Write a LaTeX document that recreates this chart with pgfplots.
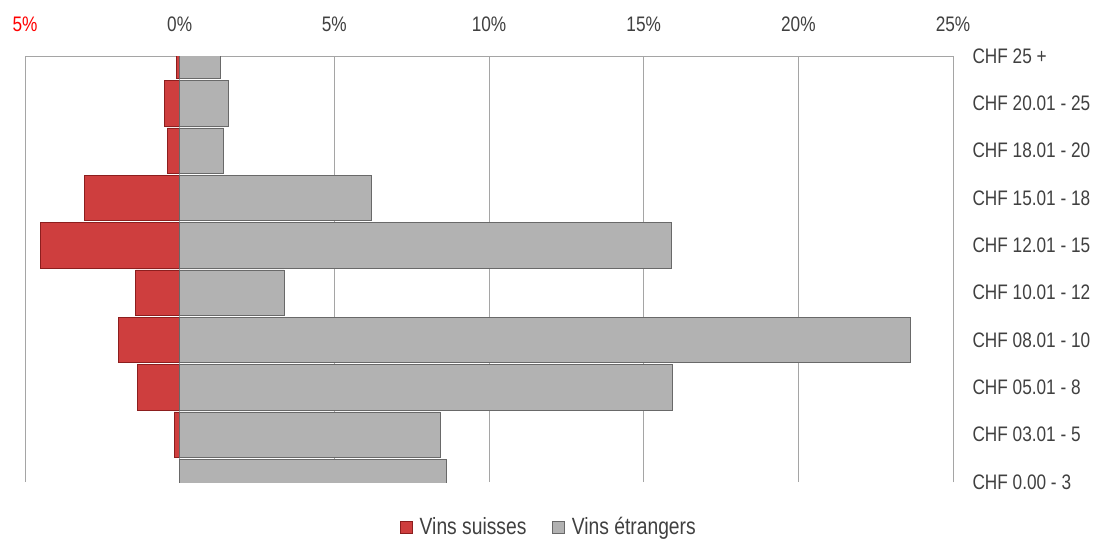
\documentclass[border=0pt]{standalone}
\usepackage{pgfplots}
\pgfplotsset{compat=1.18}
\usepackage{fontspec}
\setmainfont[FakeStretch=0.82]{Liberation Sans}
\definecolor{txt}{RGB}{64,64,64}
\definecolor{gridc}{RGB}{165,165,165}
\definecolor{redmid}{RGB}{206,62,62}
\definecolor{redline}{RGB}{140,30,30}
\definecolor{graymid}{RGB}{178,178,178}
\definecolor{grayline}{RGB}{105,105,105}
\begin{document}
\begin{tikzpicture}
\begin{axis}[
  name=ax,
  at={(0pt,0pt)}, anchor=south west,
  scale only axis, width=928pt, height=426pt,
  xmin=-5, xmax=25, ymin=0, ymax=9,
  enlargelimits=false,
  axis x line*=top, axis y line*=right,
  axis line style={draw=gridc, line width=0.8pt},
  xmajorgrids, grid style={draw=gridc, line width=0.8pt},
  major tick length=0pt,
  xtick={-5,0,5,10,15,20,25},
  xticklabels={{\textcolor{red}{5\%}},0\%,5\%,10\%,15\%,20\%,25\%},
  xticklabel pos=upper,
  xticklabel style={font=\fontsize{21}{25}\selectfont, text=txt, anchor=south, yshift=21pt},
  ytick={0,...,9},
  yticklabels={CHF 0.00 - 3, CHF 03.01 - 5, CHF 05.01 - 8, CHF 08.01 - 10, CHF 10.01 - 12, CHF 12.01 - 15, CHF 15.01 - 18, CHF 18.01 - 20, CHF 20.01 - 25, CHF 25 +},
  yticklabel pos=right,
  yticklabel style={font=\fontsize{21}{25}\selectfont, text=txt, anchor=west, xshift=16pt},
  xbar, bar width=0.96, bar shift=0pt,
  legend columns=2,
  legend style={at={(0.5647,-0.1056)}, anchor=center, draw=none, fill=none,
    font=\fontsize{23.5}{27}\selectfont, text=txt,
    /tikz/every even column/.append style={column sep=24pt}},
  legend image code/.code={\draw[#1] (0pt,-6pt) rectangle (12pt,6pt); \path[draw=none,fill=none] (0pt,0pt) -- (17pt,0pt);},
]
\addplot[xbar, draw=redline, line width=0.8pt, fill=redmid]
  coordinates {(-0.18,1) (-1.37,2) (-1.97,3) (-1.42,4) (-4.49,5) (-3.09,6) (-0.40,7) (-0.49,8) (-0.11,9)};
\addlegendentry{Vins suisses}
\addplot[xbar, draw=grayline, line width=0.8pt, fill=graymid]
  coordinates {(8.63,0) (8.42,1) (15.94,2) (23.63,3) (3.38,4) (15.89,5) (6.19,6) (1.41,7) (1.56,8) (1.31,9)};
\addlegendentry{Vins étrangers}
\end{axis}
\pgfresetboundingbox
\path[use as bounding box] ([shift={(-25pt,-57pt)}]ax.south west) rectangle ([shift={(1073pt,482pt)}]ax.south west);
\end{tikzpicture}
\end{document}
